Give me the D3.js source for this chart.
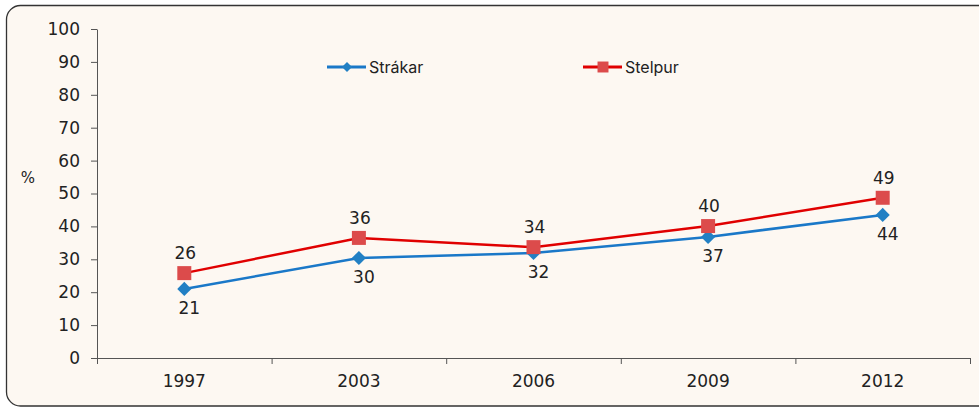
<!DOCTYPE html>
<html>
<head>
<meta charset="utf-8">
<script src="https://cdn.jsdelivr.net/npm/d3@7"></script>
<style>
  body { margin: 0; background: #ffffff; }
  svg { display: block; }
  .tick text { font-family: "DejaVu Sans", sans-serif; font-size: 17px; fill: #222; }
  .domain, .tick line { stroke: #555; }
</style>
</head>
<body>
<div id="chart"></div>
<script>
const years = ["1997", "2003", "2006", "2009", "2012"];
const strakar = [21.0, 30.4, 31.9, 36.8, 43.5];
const stelpur = [25.8, 36.5, 33.7, 40.1, 48.7];
const strakarLabels = ["21", "30", "32", "37", "44"];
const stelpurLabels = ["26", "36", "34", "40", "49"];
const yTicks = [0, 10, 20, 30, 40, 50, 60, 70, 80, 90, 100];

const width = 979, height = 408;
const margin = { left: 97, right: 9, top: 29, bottom: 50 };
const labelFont = "DejaVu Sans, sans-serif";

const svg = d3.select("#chart").append("svg")
  .attr("width", width)
  .attr("height", height);

// frame
svg.append("rect")
  .attr("x", 6.5).attr("y", 5.5)
  .attr("width", 1000).attr("height", 400.5)
  .attr("rx", 14)
  .attr("fill", "#fdf8f2")
  .attr("stroke", "#333")
  .attr("stroke-width", 1.3);

const x = d3.scaleBand()
  .domain(years)
  .range([margin.left, width - margin.right]);

const xEdges = d3.scaleLinear()
  .domain([0, years.length])
  .range([margin.left, width - margin.right]);

const y = d3.scaleLinear()
  .domain([0, 100])
  .range([height - margin.bottom, margin.top]);

// y axis
svg.append("g")
  .attr("transform", `translate(${margin.left},0)`)
  .call(d3.axisLeft(y).tickValues(yTicks).tickSize(6).tickPadding(11).tickSizeOuter(0));

// x axis: boundary ticks
svg.append("g")
  .attr("transform", `translate(0,${y(0)})`)
  .call(d3.axisBottom(xEdges).ticks(years.length).tickFormat("").tickSize(6).tickSizeOuter(0));

// x axis labels
svg.append("g")
  .attr("transform", `translate(0,${y(0)})`)
  .call(d3.axisBottom(x).tickSize(0).tickPadding(17))
  .call(g => g.select(".domain").remove());

svg.append("text")
  .attr("x", 28).attr("y", 183)
  .attr("text-anchor", "middle")
  .style("font-family", labelFont)
  .style("font-size", "15px")
  .attr("fill", "#222")
  .text("%");

const cx = (i) => x(years[i]) + x.bandwidth() / 2;

const line = d3.line()
  .x((d, i) => cx(i))
  .y(d => y(d));

const series = [
  { name: "Stelpur", values: stelpur, labels: stelpurLabels, line: "#e00000", marker: "#dc4b4b", shape: d3.symbolSquare, size: 196, rot: 0, dx: 1, dy: -14 },
  { name: "Strákar", values: strakar, labels: strakarLabels, line: "#1a78c8", marker: "#2280c4", shape: d3.symbolSquare, size: 100, rot: 45, dx: 5, dy: 25 }
];

series.slice().reverse().forEach(s => {
  svg.append("path")
    .datum(s.values)
    .attr("fill", "none")
    .attr("stroke", s.line)
    .attr("stroke-width", 2.5)
    .attr("d", line);
});

series.slice().reverse().forEach(s => {
  svg.selectAll(null)
    .data(s.values)
    .enter().append("path")
    .attr("transform", (d, i) => `translate(${cx(i)},${y(d)}) rotate(${s.rot})`)
    .attr("d", d3.symbol().type(s.shape).size(s.size))
    .attr("fill", s.marker);

  svg.selectAll(null)
    .data(s.values)
    .enter().append("text")
    .attr("x", (d, i) => cx(i) + s.dx)
    .attr("y", d => y(d) + s.dy)
    .attr("text-anchor", "middle")
    .style("font-family", labelFont)
    .style("font-size", "17px")
    .attr("fill", "#222")
    .text((d, i) => s.labels[i]);
});

// legend
const legend = [
  { name: "Strákar", x: 327, line: "#1a78c8", marker: "#2280c4", size: 50, rot: 45 },
  { name: "Stelpur", x: 583, line: "#e00000", marker: "#dc4b4b", size: 120, rot: 0 }
];
legend.forEach(l => {
  const g = svg.append("g").attr("transform", `translate(${l.x},67)`);
  g.append("line").attr("x1", 0).attr("x2", 39)
    .attr("stroke", l.line).attr("stroke-width", 3);
  g.append("path").attr("transform", `translate(20,0) rotate(${l.rot})`)
    .attr("d", d3.symbol().type(d3.symbolSquare).size(l.size))
    .attr("fill", l.marker);
  g.append("text").attr("x", 42).attr("y", 6)
    .style("font-family", "Inter, sans-serif")
    .style("font-size", "16px")
    .attr("fill", "#222")
    .text(l.name);
});
</script>
</body>
</html>
